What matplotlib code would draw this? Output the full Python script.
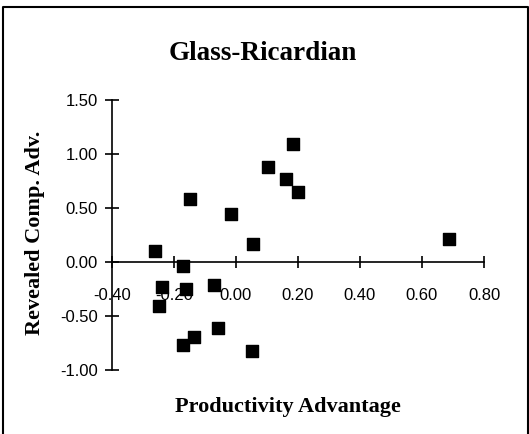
import matplotlib
matplotlib.use("Agg")
import matplotlib.pyplot as plt
from matplotlib.lines import Line2D

# valores
prod_adv = [-0.26, -0.17, -0.24, -0.25, -0.15, -0.16, -0.17, -0.135, -0.07, -0.057,
            -0.016, 0.056, 0.053, 0.102, 0.16, 0.185, 0.20, 0.688]
rca = [0.10, -0.04, -0.23, -0.41, 0.58, -0.25, -0.77, -0.69, -0.21, -0.61,
       0.44, 0.17, -0.82, 0.88, 0.77, 1.09, 0.65, 0.21]

x_ticks = [-0.40, -0.20, 0.00, 0.20, 0.40, 0.60, 0.80]
y_ticks = [-1.00, -0.50, 0.00, 0.50, 1.00, 1.50]

plt.rcParams["axes.unicode_minus"] = False

W, H = 529, 434
fig = plt.figure(figsize=(W / 100, H / 100), dpi=100)

# eixos posicionados em pixels
ax = fig.add_axes([104 / W, (H - 375) / H, 386 / W, 280 / H])
ax.set_xlim((104 - 236) / 310, (490 - 236) / 310)
ax.set_ylim((262 - 375) / 108, (262 - 95) / 108)
ax.patch.set_visible(False)

ax.scatter(prod_adv, rca, marker="s", s=85, color="black", zorder=3, clip_on=False)

for s in ["top", "right"]:
    ax.spines[s].set_visible(False)
ax.spines["left"].set_position(("data", -0.40))
ax.spines["bottom"].set_position(("data", 0.0))
ax.spines["left"].set_bounds(-1.0, 1.5)
ax.spines["bottom"].set_bounds(-0.4, 0.8)
for s in ["left", "bottom"]:
    ax.spines[s].set_linewidth(1.2)

ax.set_xticks(x_ticks)
ax.set_yticks(y_ticks)
ax.set_xticklabels([f"{v:.2f}" for v in x_ticks])
ax.set_yticklabels([f"{v:.2f}" for v in y_ticks])
ax.tick_params(axis="x", direction="inout", length=9, width=1.2, pad=14,
               labelsize=12)
ax.tick_params(axis="y", direction="inout", length=10, width=1.2, pad=5,
               labelsize=12)
for lab in ax.get_xticklabels() + ax.get_yticklabels():
    lab.set_family("Liberation Sans")

serif = {"family": "Liberation Serif", "weight": "bold"}
fig.text(263 / W, 1 - 53 / H, "Glass-Ricardian", ha="center", va="center",
         fontsize=19.5, **serif)
fig.text(288 / W, 1 - 407 / H, "Productivity Advantage", ha="center", va="center",
         fontsize=16, **serif)
fig.text(35 / W, 1 - 233 / H, "Revealed Comp. Adv.", ha="center", va="center",
         rotation=90, fontsize=16, **serif)

# moldura
fig.add_artist(Line2D([3 / W, 3 / W, 528 / W, 528 / W],
                      [0, 1 - 7 / H, 1 - 7 / H, 0],
                      transform=fig.transFigure, color="black", lw=1.5))

plt.savefig("out.png", dpi=100)
